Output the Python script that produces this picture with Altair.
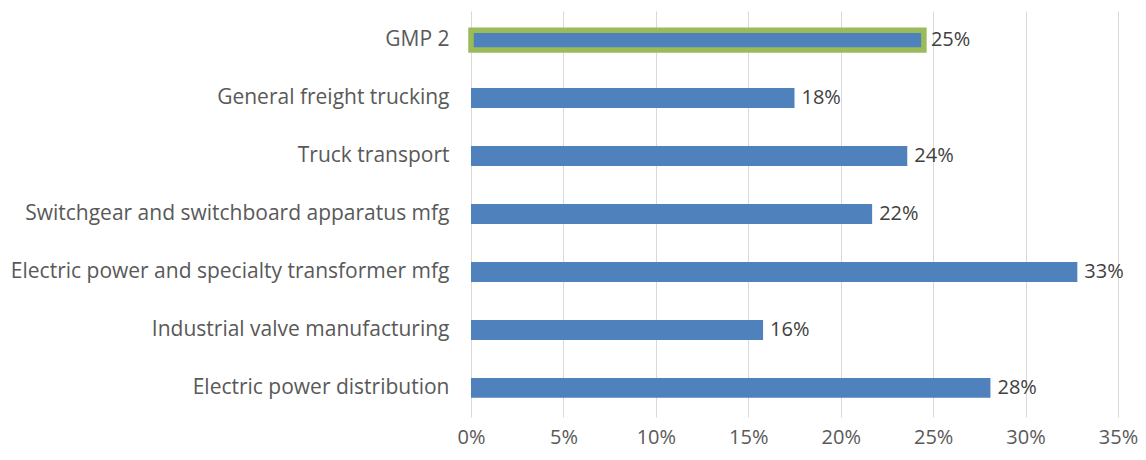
import altair as alt
import pandas as pd

categories = [
    "GMP 2",
    "General freight trucking",
    "Truck transport",
    "Switchgear and switchboard apparatus mfg",
    "Electric power and specialty transformer mfg",
    "Industrial valve manufacturing",
    "Electric power distribution",
]
values = [0.245, 0.175, 0.236, 0.217, 0.328, 0.158, 0.281]
value_labels = ["25%", "18%", "24%", "22%", "33%", "16%", "28%"]
highlight = [True, False, False, False, False, False, False]
x_ticks = [0, 0.05, 0.10, 0.15, 0.20, 0.25, 0.30, 0.35]

df = pd.DataFrame({
    "category": categories,
    "value": values,
    "label": value_labels,
    "highlight": highlight,
})

FONT = "Open Sans"

y_enc = alt.Y(
    "category:N",
    sort=categories,
    scale=alt.Scale(paddingInner=0.655, paddingOuter=0.33),
    axis=alt.Axis(
        title=None, domain=False, ticks=False, labelPadding=22,
        labelFont=FONT, labelFontSize=21, labelColor="#595959", labelLimit=600,
    ),
)
x_enc = alt.X(
    "value:Q",
    scale=alt.Scale(domain=[0, 0.35], nice=False),
    axis=alt.Axis(
        title=None, format=".0%", values=x_ticks, domain=False, ticks=False,
        grid=True, gridColor="#d9d9d9", gridWidth=1, labelPadding=10,
        labelFlush=False, labelFont=FONT, labelFontSize=20, labelColor="#595959",
    ),
)

bars = alt.Chart(df).mark_bar(color="#4f81bd").encode(
    x=x_enc,
    y=y_enc,
    stroke=alt.condition("datum.highlight", alt.value("#9bbb59"), alt.value(None)),
    strokeWidth=alt.condition("datum.highlight", alt.value(5.5), alt.value(0)),
)

text = alt.Chart(df).mark_text(
    align="left", baseline="middle", dx=7, font=FONT, fontSize=20, color="#404040"
).encode(
    x="value:Q",
    y=alt.Y("category:N", sort=categories),
    text="label:N",
)

chart = (bars + text).properties(
    width=647, height=406,
    background="white",
    autosize=alt.AutoSizeParams(type="none"),
    padding={"left": 463, "top": 3, "right": 20, "bottom": 35},
).configure_view(stroke=None)

chart.save("out.html", embed_options={"renderer": "svg", "actions": False})
